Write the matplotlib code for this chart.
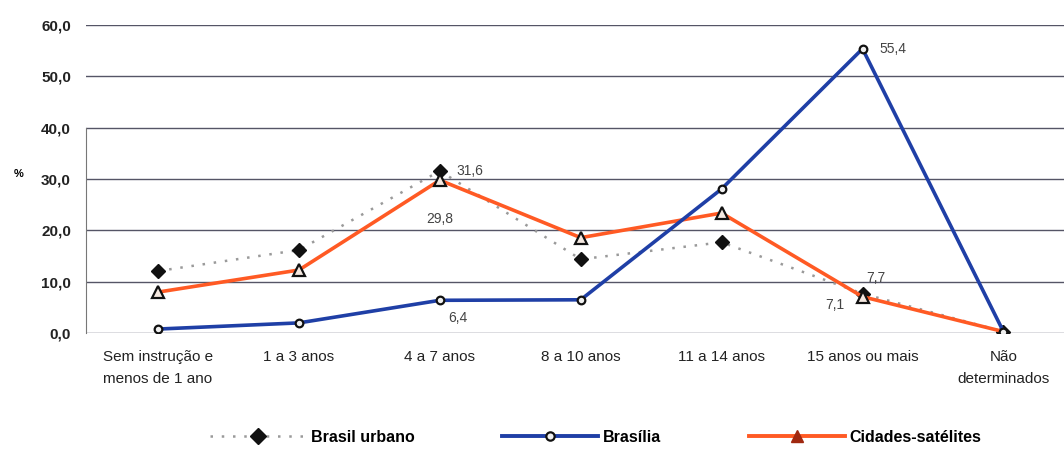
import matplotlib
matplotlib.use("Agg")
import matplotlib.pyplot as plt
from matplotlib.lines import Line2D
from matplotlib.ticker import FuncFormatter

plt.rcParams["font.family"] = ["Liberation Sans", "DejaVu Sans"]

categorias = ["Sem instrução e\nmenos de 1 ano", "1 a 3 anos", "4 a 7 anos",
              "8 a 10 anos", "11 a 14 anos", "15 anos ou mais", "Não\ndeterminados"]
brasil_urbano = [12.1, 16.2, 31.6, 14.4, 17.7, 7.7, 0.3]
brasilia = [0.8, 2.0, 6.4, 6.5, 28.1, 55.4, 0.3]
cidades_satelites = [8.0, 12.3, 29.8, 18.6, 23.4, 7.1, 0.3]

C_BRASIL = "#9a9a9a"
C_DF = "#1f3fa6"
C_CID = "#ff5a24"

fig = plt.figure(figsize=(10.64, 4.49), dpi=100)
ax = fig.add_axes([0.081, 0.258, 0.919, 0.686])
x = list(range(len(categorias)))

ax.plot(x, brasil_urbano, color=C_BRASIL, lw=1.8, ls=(0, (1, 3.5)),
        marker="D", ms=7, mfc="#111111", mec="#111111", zorder=3)
ax.plot(x, cidades_satelites, color=C_CID, lw=2.6,
        marker="^", ms=8, mfc="#f4e8e0", mec="#111111", mew=1.6, zorder=4)
ax.plot(x, brasilia, color=C_DF, lw=2.6,
        marker="o", ms=5.5, mfc="#f0f0f0", mec="#111111", mew=1.6, zorder=5)

def fmt(v):
    return f"{v:.1f}".replace(".", ",")

lab = dict(fontsize=10, color="#444444")
ax.annotate(fmt(brasil_urbano[2]), (2, brasil_urbano[2]), xytext=(12, 0),
            textcoords="offset points", va="center", **lab)
ax.annotate(fmt(cidades_satelites[2]), (2, cidades_satelites[2]), xytext=(-10, -28),
            textcoords="offset points", va="center", **lab)
ax.annotate(fmt(brasilia[2]), (2, brasilia[2]), xytext=(6, -13),
            textcoords="offset points", va="center", **lab)
ax.annotate(fmt(brasilia[5]), (5, brasilia[5]), xytext=(12, 0),
            textcoords="offset points", va="center", **lab)
ax.annotate(fmt(brasil_urbano[5]), (5, brasil_urbano[5]), xytext=(3, 11),
            textcoords="offset points", va="center", **lab)
ax.annotate(fmt(cidades_satelites[5]), (5, cidades_satelites[5]), xytext=(-27, -6),
            textcoords="offset points", va="center", **lab)

ax.set_ylim(0, 60)
ax.set_xlim(-0.51, 6.43)
ax.set_yticks(range(0, 61, 10))
ax.yaxis.set_major_formatter(FuncFormatter(lambda v, p: fmt(v)))
ax.grid(axis="y", color="#555566", lw=1.0)
ax.set_axisbelow(True)
for s in ["top", "right", "bottom"]:
    ax.spines[s].set_visible(False)
ax.spines["left"].set_color("#777777")
ax.spines["left"].set_bounds(0, 40)
ax.tick_params(axis="y", length=0, pad=11, labelsize=11, labelcolor="#222222")
for t in ax.get_yticklabels():
    t.set_fontweight("bold")
ax.tick_params(axis="x", length=0, pad=12, labelsize=11, labelcolor="#222222")
ax.set_xticks(x)
ax.set_xticklabels(categorias, linespacing=1.75)
ax.set_ylabel("%", fontsize=8, rotation=0, labelpad=16, fontweight="bold")

handles = [
    Line2D([], [], color=C_BRASIL, lw=1.8, ls=(0, (1, 3.5)), marker="D", ms=8,
           mfc="#111111", mec="#111111"),
    Line2D([], [], color=C_DF, lw=2.8, marker="o", ms=6, mfc="#f0f0f0",
           mec="#111111", mew=1.6),
    Line2D([], [], color=C_CID, lw=2.8, marker="^", ms=8, mfc="#a02810",
           mec="#a02810"),
]
fig.legend(handles, ["Brasil urbano", "Brasília", "Cidades-satélites"],
           loc="lower center", bbox_to_anchor=(0.56, -0.022), ncol=3, frameon=False,
           handlelength=6, columnspacing=5.5, handletextpad=0.3,
           prop={"size": 11.5, "weight": "bold"})

fig.savefig("out.png", dpi=100)
